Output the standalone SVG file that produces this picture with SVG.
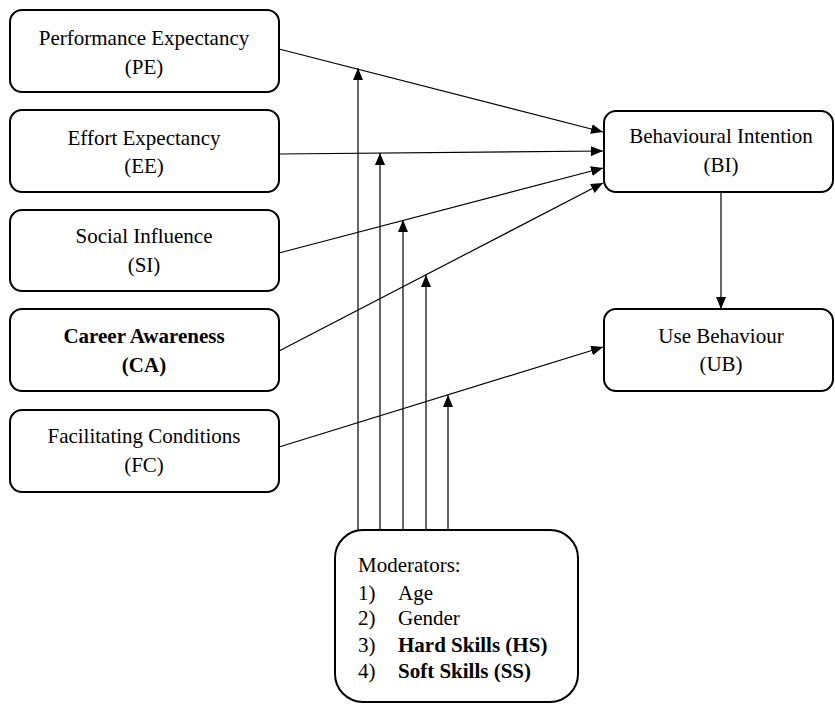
<svg xmlns="http://www.w3.org/2000/svg" width="835" height="706" viewBox="0 0 835 706">
<style>
.box{fill:#fff;stroke:#000;stroke-width:2}
.t{font-family:"Liberation Serif","Times New Roman",serif;font-size:21px;fill:#000;text-anchor:middle}
.b{font-weight:bold}
.l{text-anchor:start}
.c{stroke:#000;stroke-width:1.2;fill:none;marker-end:url(#ah)}
</style>
<defs>
<marker id="ah" viewBox="0 0 12 10" refX="12" refY="5" markerWidth="12" markerHeight="10" markerUnits="userSpaceOnUse" orient="auto">
<path d="M0,0 L12,5 L0,10 z" fill="#000"/>
</marker>
</defs>
<rect width="835" height="706" fill="#fff"/>
<g id="PE"><rect class="box" x="10" y="10" width="269" height="82" rx="12"/><text class="t" x="144" y="45">Performance Expectancy</text><text class="t" x="144" y="74">(PE)</text></g>
<g id="EE"><rect class="box" x="10" y="110" width="269" height="82" rx="12"/><text class="t" x="144" y="145">Effort Expectancy</text><text class="t" x="144" y="173">(EE)</text></g>
<g id="SI"><rect class="box" x="10" y="210" width="269" height="81" rx="12"/><text class="t" x="144" y="243">Social Influence</text><text class="t" x="144" y="272">(SI)</text></g>
<g id="CA"><rect class="box" x="10" y="309" width="269" height="82" rx="12"/><text class="t b" x="144" y="343">Career Awareness</text><text class="t b" x="144" y="372">(CA)</text></g>
<g id="FC"><rect class="box" x="10" y="410" width="269" height="82" rx="12"/><text class="t" x="144" y="443">Facilitating Conditions</text><text class="t" x="144" y="472">(FC)</text></g>
<g id="BI"><rect class="box" x="604" y="111" width="229" height="81" rx="12"/><text class="t" x="721" y="143">Behavioural Intention</text><text class="t" x="721" y="172">(BI)</text></g>
<g id="UB"><rect class="box" x="604" y="309" width="229" height="82" rx="12"/><text class="t" x="721" y="343">Use Behaviour</text><text class="t" x="721" y="371">(UB)</text></g>
<g id="MOD"><rect class="box" x="335" y="530" width="243" height="172" rx="28"/>
<text class="t l" x="358" y="572">Moderators:</text>
<text class="t l" x="358" y="600">1)</text><text class="t l" x="398" y="600">Age</text>
<text class="t l" x="358" y="625">2)</text><text class="t l" x="398" y="625">Gender</text>
<text class="t l" x="358" y="652">3)</text><text class="t l b" x="398" y="652">Hard Skills (HS)</text>
<text class="t l" x="358" y="678">4)</text><text class="t l b" x="398" y="678">Soft Skills (SS)</text>
</g>
<g id="connectors">
<line class="c" x1="279" y1="49" x2="603" y2="132"/>
<line class="c" x1="279" y1="154" x2="603" y2="151"/>
<line class="c" x1="279" y1="253" x2="603" y2="168"/>
<line class="c" x1="279" y1="351" x2="603" y2="183"/>
<line class="c" x1="279" y1="447" x2="603" y2="347"/>
<line class="c" x1="721" y1="192" x2="721" y2="309"/>
<line class="c" x1="358" y1="530" x2="358" y2="68"/>
<line class="c" x1="380" y1="530" x2="380" y2="153"/>
<line class="c" x1="403" y1="530" x2="403" y2="220"/>
<line class="c" x1="426" y1="530" x2="426" y2="275"/>
<line class="c" x1="448" y1="530" x2="448" y2="395"/>
</g>
</svg>
